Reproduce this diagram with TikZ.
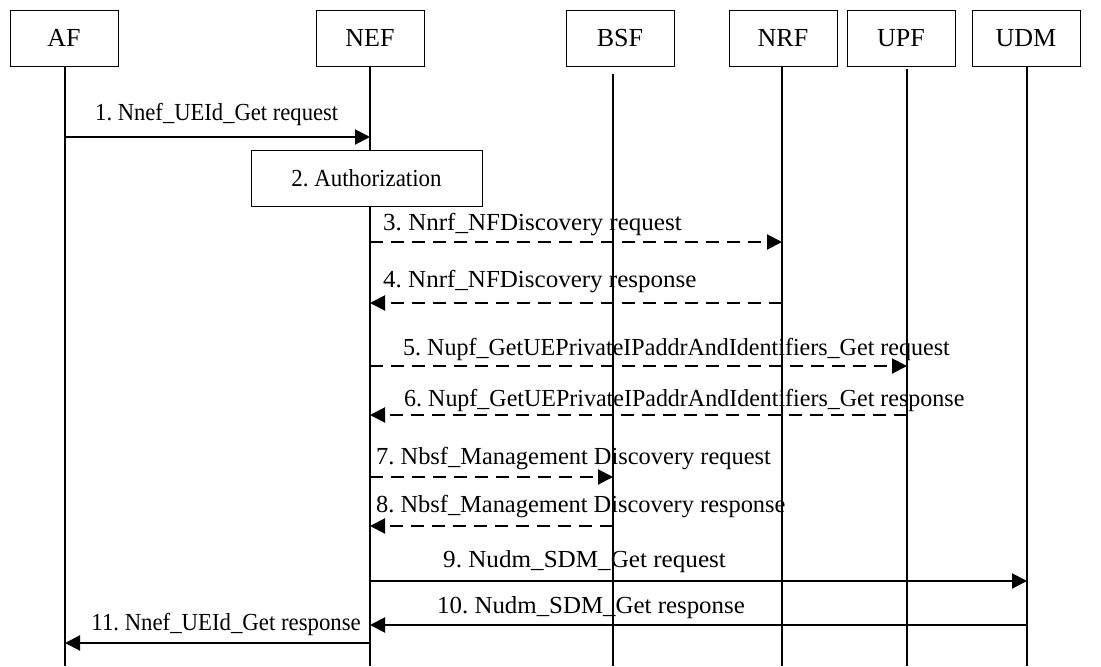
\documentclass[tikz,border=0pt]{standalone}
\usepackage{fontspec}
\usepackage{graphicx}
\setmainfont{Liberation Serif}
\frenchspacing
\usetikzlibrary{arrows.meta}
\newcommand{\xs}[2]{\scalebox{#1}[1]{#2}}
\begin{document}
\begin{tikzpicture}[x=1pt,y=-1pt,
  ent/.style={draw,line width=1pt,minimum width=108pt,minimum height=56pt,inner sep=0pt,font=\fontsize{26}{30}\selectfont},
  proc/.style={draw,fill=white,line width=1pt,minimum width=231pt,minimum height=56pt,inner sep=0pt,font=\fontsize{24.5}{28}\selectfont},
  life/.style={line width=2pt},
  msg/.style={line width=2pt,-{Triangle[length=15pt,width=15pt]}},
  dmsg/.style={msg,dash pattern=on 13pt off 8pt},
  lab/.style={font=\fontsize{24.5}{28}\selectfont,inner sep=0pt,anchor=base west},
  labr/.style={lab,anchor=base east}]
\useasboundingbox (0,0) rectangle (1101,667);
% entities
\node[ent] (AF)  at (64,38)  {AF};
\node[ent] (NEF) at (370,38) {NEF};
\node[ent] (BSF) at (620,38) {BSF};
\node[ent] (NRF) at (783,38) {NRF};
\node[ent] (UPF) at (901,38) {UPF};
\node[ent] (UDM) at (1026,38) {UDM};
% lifeline ends
\coordinate (tAF) at (65,66);   \coordinate (bAF) at (65,666);
\coordinate (tNEF) at (370,66); \coordinate (bNEF) at (370,666);
\coordinate (tBSF) at (613,74); \coordinate (bBSF) at (613,666);
\coordinate (tNRF) at (782,66); \coordinate (bNRF) at (782,666);
\coordinate (tUPF) at (907,69); \coordinate (bUPF) at (907,666);
\coordinate (tUDM) at (1027,66); \coordinate (bUDM) at (1027,666);
\draw[life] (tAF) -- (bAF);
\draw[life] (tNEF) -- (bNEF);
\draw[life] (tBSF) -- (bBSF);
\draw[life] (tNRF) -- (bNRF);
\draw[life] (tUPF) -- (bUPF);
\draw[life] (tUDM) -- (bUDM);
% message rows
\coordinate (m1) at (0,137);
\coordinate (m3) at (0,242);
\coordinate (m4) at (0,303);
\coordinate (m5) at (0,366);
\coordinate (m6) at (0,415);
\coordinate (m7) at (0,477);
\coordinate (m8) at (0,526);
\coordinate (m9) at (0,581);
\coordinate (m10) at (0,625);
\coordinate (m11) at (0,643);
% 1
\draw[msg] (tAF |- m1) -- (tNEF |- m1);
\node[lab] (l1) at (95,120.7) {\xs{0.923}{1. Nnef\_UEId\_Get request}};
% 2
\node[proc] (auth) at (366.5,178) {\xs{0.935}{2. Authorization}};
% 3
\draw[dmsg] (tNEF |- m3) -- (tNRF |- m3);
\node[lab] (l3) at (383,230.7) {\xs{1.023}{3. Nnrf\_NFDiscovery request}};
% 4
\draw[dmsg] (tNRF |- m4) -- (tNEF |- m4);
\node[lab] (l4) at (383,287) {\xs{1.021}{4. Nnrf\_NFDiscovery response}};
% 5
\draw[dmsg] (tNEF |- m5) -- (tUPF |- m5);
\node[lab] (l5) at (403,355.7) {\xs{0.981}{5. Nupf\_GetUEPrivateIPaddrAndIdentifiers\_Get request}};
% 6
\draw[dmsg] (tUPF |- m6) -- (tNEF |- m6);
\node[lab] (l6) at (404,406) {\xs{0.979}{6. Nupf\_GetUEPrivateIPaddrAndIdentifiers\_Get response}};
% 7
\draw[dmsg] (tNEF |- m7) -- (tBSF |- m7);
\node[lab] (l7) at (376,464) {\xs{0.997}{7. Nbsf\_Management Discovery request}};
% 8
\draw[dmsg] (tBSF |- m8) -- (tNEF |- m8);
\node[lab] (l8) at (376,512) {\xs{0.996}{8. Nbsf\_Management Discovery response}};
% 9
\draw[msg] (tNEF |- m9) -- (tUDM |- m9);
\node[lab] (l9) at (443,567) {\xs{1.026}{9. Nudm\_SDM\_Get request}};
% 10
\draw[msg] (tUDM |- m10) -- (tNEF |- m10);
\node[lab] (l10) at (437,613) {\xs{1.016}{10. Nudm\_SDM\_Get response}};
% 11
\draw[msg] (tNEF |- m11) -- (tAF |- m11);
\node[labr] (l11) at (361,630) {\xs{0.93}{11. Nnef\_UEId\_Get response}};
\end{tikzpicture}
\end{document}
